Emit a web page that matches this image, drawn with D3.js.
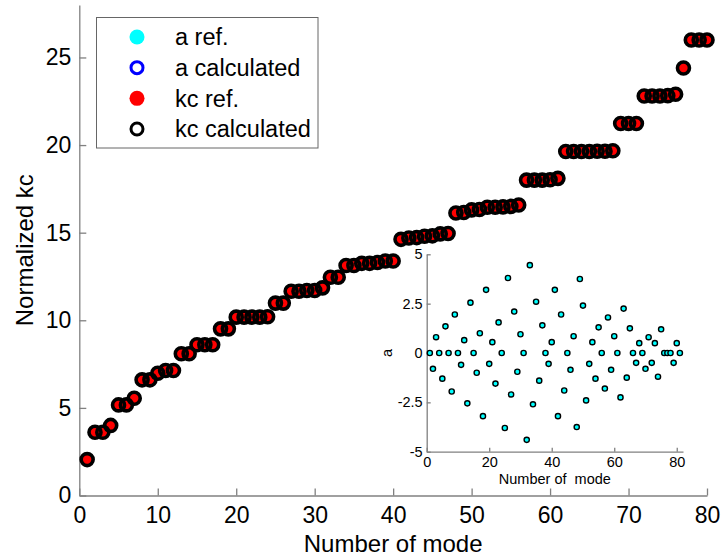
<!DOCTYPE html>
<meta charset="utf-8">
<html>
<style>
  body { margin: 0; background: #fff; }
  svg text { font-family: "Liberation Sans", Arial, sans-serif; fill: #000; }
  .axis path, .axis line { stroke: #808080; stroke-width: 1.3; }
</style>
<script src="https://cdn.jsdelivr.net/npm/d3@7"></script>
<body>
  <svg class="chart"></svg>
</body>
<script>
  var width = 721;
  var height = 558;

  // main chart: normalized cutoff kc for each mode (ref and calculated coincide)
  var kcRef = [2.05, 3.61, 3.61, 4.0, 5.17, 5.17, 5.55, 6.6, 6.6, 6.98,
    7.13, 7.13, 8.09, 8.09, 8.6, 8.6, 8.6, 9.51, 9.51, 10.18,
    10.18, 10.18, 10.18, 10.2, 10.98, 10.98, 11.66, 11.66, 11.7, 11.7,
    11.85, 12.46, 12.46, 13.13, 13.13, 13.25, 13.25, 13.3, 13.38, 13.38,
    14.62, 14.7, 14.72, 14.8, 14.82, 14.93, 14.95, 16.12, 16.15, 16.3,
    16.32, 16.45, 16.45, 16.47, 16.5, 16.58, 18.0, 18.0, 18.0, 18.02,
    18.1, 19.63, 19.63, 19.63, 19.63, 19.65, 19.65, 19.68, 21.23, 21.23,
    21.23, 22.8, 22.8, 22.8, 22.82, 22.9, 24.4, 26.0, 26.0, 26.0];
  var kcCalc = kcRef.slice();

  // inset: coefficient a for each mode
  var aRef = [0, -0.8, 0.8, 0, -1.3, 1.35, 0, -1.95, 1.95, 0,
    -0.6, 0.65, -2.55, 2.55, 0, -1.0, 1.0, -3.2, 3.2, -0.55,
    0.55, -1.55, 1.55, 0, -3.8, 3.8, -2.1, 2.1, -0.95, 0.95,
    0, -4.4, 4.45, -2.6, 2.6, -1.4, 1.4, 0, -0.55, 0.55,
    3.2, -3.2, 1.95, -1.9, 0, -0.85, 0.85, -3.75, 3.75, 2.4,
    -2.4, -0.55, 0.55, -1.3, 1.3, 0, -1.8, 1.8, -0.85, 0.85,
    0, -2.25, 2.25, -1.25, 1.25, 0, -0.5, 0.5, 0, -0.8,
    0.8, -0.5, 0.5, -1.2, 1.2, 0, 0, 0, -0.5, 0.5, 0];
  var aCalc = aRef.slice();

  var xTicks = [0, 10, 20, 30, 40, 50, 60, 70, 80];
  var yTicks = [0, 5, 10, 15, 20, 25];
  var insetXTicks = [0, 20, 40, 60, 80];
  var insetYTicks = [-5, -2.5, 0, 2.5, 5];
  var legendLabels = ["a ref.", "a calculated", "kc ref.", "kc calculated"];

  var svg = d3.select(".chart")
    .attr("width", width)
    .attr("height", height);

  var x = d3.scaleLinear().domain([0, 80]).range([79.3, 707]);
  var y = d3.scaleLinear().domain([0, 28]).range([495.5, 4.9]);

  var xAxis = svg.append("g")
    .attr("class", "axis")
    .attr("transform", "translate(0," + y(0) + ")")
    .call(d3.axisBottom(x).tickValues(xTicks).tickSizeInner(-7).tickSizeOuter(0).tickPadding(11));
  xAxis.selectAll("text").style("font-size", "23px");

  var yAxis = svg.append("g")
    .attr("class", "axis")
    .attr("transform", "translate(" + x(0) + ",0)")
    .call(d3.axisLeft(y).tickValues(yTicks).tickSizeInner(-7).tickSizeOuter(0).tickPadding(8));
  yAxis.selectAll("text").style("font-size", "23px");

  svg.append("text")
    .attr("x", (x(0) + x(80)) / 2)
    .attr("y", 552)
    .attr("text-anchor", "middle")
    .style("font-size", "24px")
    .text("Number of mode");

  svg.append("text")
    .attr("transform", "translate(33," + (y(0) + y(28)) / 2 + ") rotate(-90)")
    .attr("text-anchor", "middle")
    .style("font-size", "24px")
    .text("Normalized kc");

  var idx = d3.range(1, kcRef.length + 1);

  svg.append("g").selectAll("circle")
    .data(idx)
    .enter().append("circle")
    .attr("cx", function(d) { return x(d); })
    .attr("cy", function(d) { return y(kcRef[d - 1]); })
    .attr("r", 5.5)
    .attr("fill", "#ff0000");

  svg.append("g").selectAll("circle")
    .data(idx)
    .enter().append("circle")
    .attr("cx", function(d) { return x(d); })
    .attr("cy", function(d) { return y(kcCalc[d - 1]); })
    .attr("r", 6)
    .attr("fill", "none")
    .attr("stroke", "#000")
    .attr("stroke-width", 3.6);

  // legend
  var legend = svg.append("g");
  legend.append("rect")
    .attr("x", 96.5).attr("y", 17.5)
    .attr("width", 221.5).attr("height", 130.5)
    .attr("fill", "#fff")
    .attr("stroke", "#666")
    .attr("stroke-width", 1);

  var ly = d3.scalePoint().domain(legendLabels).range([37, 129]);
  var markers = [
    { fill: "#00ffff", stroke: "none", r: 7.5, sw: 0 },
    { fill: "none", stroke: "#0000ff", r: 6, sw: 3 },
    { fill: "#ff0000", stroke: "none", r: 7.5, sw: 0 },
    { fill: "none", stroke: "#000", r: 6, sw: 3 }
  ];
  legendLabels.forEach(function(l, i) {
    legend.append("circle")
      .attr("cx", 137).attr("cy", ly(l))
      .attr("r", markers[i].r)
      .attr("fill", markers[i].fill)
      .attr("stroke", markers[i].stroke)
      .attr("stroke-width", markers[i].sw);
    legend.append("text")
      .attr("x", 175).attr("y", ly(l))
      .attr("dy", "0.36em")
      .style("font-size", "23.5px")
      .text(l);
  });

  // inset
  var ix = d3.scaleLinear().domain([0, 82]).range([426.7, 683]);
  var iy = d3.scaleLinear().domain([-5, 5]).range([451.7, 254.3]);
  var inset = svg.append("g");

  var ixAxis = inset.append("g")
    .attr("class", "axis")
    .attr("transform", "translate(0," + iy(-5) + ")")
    .call(d3.axisBottom(ix).tickValues(insetXTicks).tickSizeInner(-4).tickSizeOuter(0).tickPadding(5));
  ixAxis.selectAll("text").style("font-size", "14.5px");

  var iyAxis = inset.append("g")
    .attr("class", "axis")
    .attr("transform", "translate(" + ix(0) + ",0)")
    .call(d3.axisLeft(iy).tickValues(insetYTicks).tickSizeInner(-4).tickSizeOuter(0).tickPadding(4)
      .tickFormat(function(d) { return String(d); }));
  iyAxis.selectAll("text").style("font-size", "14.5px");

  inset.append("text")
    .attr("x", (ix(0) + ix(82)) / 2)
    .attr("y", 484)
    .attr("text-anchor", "middle")
    .style("font-size", "14.5px")
    .style("white-space", "pre")
    .text("Number of  mode");

  inset.append("text")
    .attr("transform", "translate(392," + iy(0) + ") rotate(-90)")
    .attr("text-anchor", "middle")
    .style("font-size", "14.5px")
    .text("a");

  var aidx = d3.range(1, aRef.length + 1);
  inset.append("g").selectAll("circle")
    .data(aidx)
    .enter().append("circle")
    .attr("cx", function(d) { return ix(d); })
    .attr("cy", function(d) { return iy(aCalc[d - 1]); })
    .attr("r", 2.6)
    .attr("fill", "#00ffff")
    .attr("stroke", "#000")
    .attr("stroke-width", 1.4);
</script>
</html>
